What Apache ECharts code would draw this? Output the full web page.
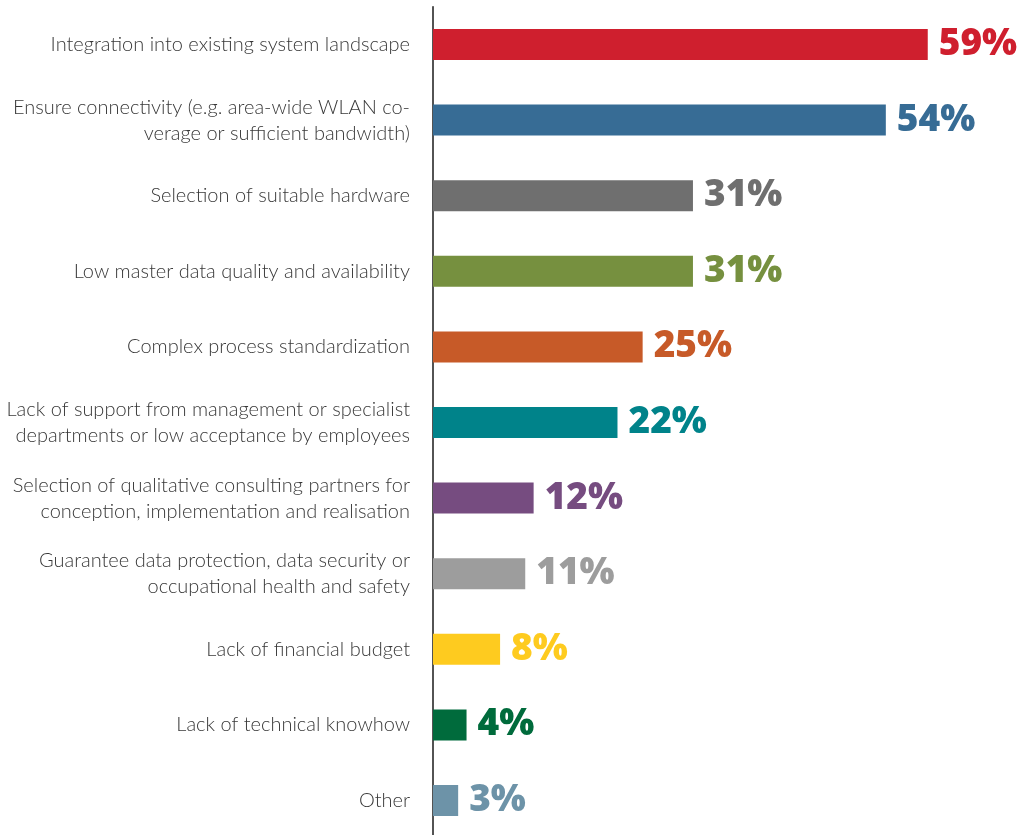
<!DOCTYPE html>
<html>
<head>
<meta charset="utf-8">
<script src="https://cdn.jsdelivr.net/npm/echarts@6/dist/echarts.min.js"></script>
<style>
  html, body { margin: 0; padding: 0; background: #ffffff; overflow: hidden; }
  #chart { width: 1028px; height: 835px; }
</style>
</head>
<body>
<div id="chart"></div>
<script>
// Challenges named by respondents, top to bottom
const categories = [
  'Integration into existing system landscape',
  'Ensure connectivity (e.g. area-wide WLAN co-\nverage or sufficient bandwidth)',
  'Selection of suitable hardware',
  'Low master data quality and availability',
  'Complex process standardization',
  'Lack of support from management or specialist\ndepartments or low acceptance by employees',
  'Selection of qualitative consulting partners for\nconception, implementation and realisation',
  'Guarantee data protection, data security or\noccupational health and safety',
  'Lack of financial budget',
  'Lack of technical knowhow',
  'Other'
];

// Share of respondents in percent
const values = [59, 54, 31, 31, 25, 22, 12, 11, 8, 4, 3];

// One colour per bar
const barColors = [
  '#CF1F2E', '#376C95', '#6F6F6F', '#76903F', '#C75A28', '#00838A',
  '#764C80', '#9D9D9D', '#FECB1F', '#006B3C', '#6D93A8'
];

const chart = echarts.init(document.getElementById('chart'), null, { renderer: 'canvas' });

chart.setOption({
  animation: false,
  backgroundColor: '#ffffff',
  grid: {
    left: 433, width: 587, top: 6.7, height: 831.6,
    containLabel: false,
    outerBoundsMode: 'none'
  },
  xAxis: {
    type: 'value',
    min: 0,
    max: 70,
    show: false
  },
  yAxis: {
    type: 'category',
    inverse: true,
    data: categories,
    axisLine: { show: true, lineStyle: { color: '#1a1a1a', width: 1.5 } },
    axisTick: { show: false },
    axisLabel: {
      margin: 23,
      color: '#383838',
      fontFamily: 'Lato',
      fontWeight: 300,
      fontSize: 20,
      lineHeight: 26,
      align: 'right'
    }
  },
  series: [{
    type: 'bar',
    barWidth: 31,
    data: values.map((v, i) => ({
      value: v,
      itemStyle: { color: barColors[i] },
      label: { color: barColors[i] }
    })),
    label: {
      show: true,
      position: 'right',
      distance: 11,
      formatter: '{c}%',
      fontFamily: 'Open Sans',
      fontWeight: 800,
      fontSize: 37
    }
  }]
});
</script>
</body>
</html>
